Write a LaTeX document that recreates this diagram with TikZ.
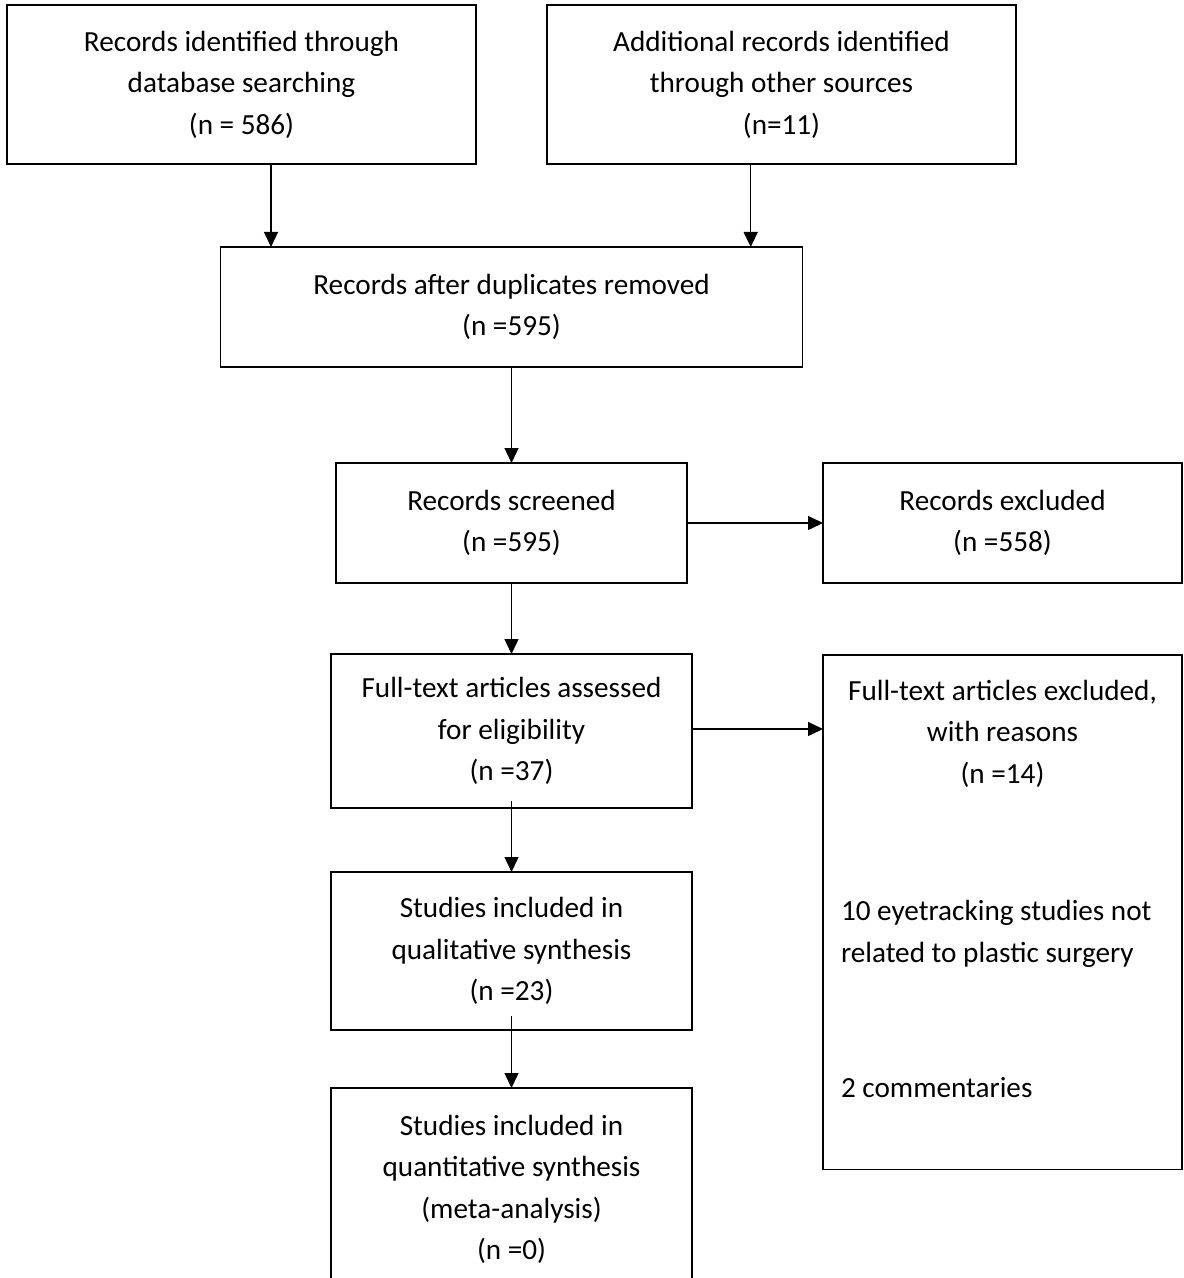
\documentclass[tikz,border=0pt]{standalone}
\usepackage{fontspec}
\setmainfont{Carlito}
\usepackage{tikz}
\usetikzlibrary{arrows.meta, positioning, calc}
\setlength{\parindent}{0pt}

\begin{document}
\begin{tikzpicture}[
				node distance=35pt,
				% Defining node styles
				block/.style={rectangle, draw=black, line width=0.75pt, align=center, inner sep=0pt, outer sep=0pt, font=\fontsize{14.6}{20.75}\selectfont},
				side_block/.style={block, align=flush left, text width=161.5pt, inner xsep=9pt, inner ysep=0pt},
				connector/.style={-{Triangle[length=7.5pt, width=7pt]}, line width=0.7pt, draw=black}
			]

			\useasboundingbox (0,0) rectangle (591.5pt,-639pt);

			% Placing the two sources
			\node[block, minimum width=234.5pt, minimum height=79.5pt, anchor=north west] (db) at (3.5pt,-2.5pt) {Records identified through\\ database searching\\ (n = 586)};
			\node[block, minimum width=234.5pt, minimum height=79.5pt, right=35.5pt of db] (other) {Additional records identified\\ through other sources\\ (n=11)};

			% Placing core nodes vertically
			\node[block, minimum width=291pt, minimum height=60pt, below=41.5pt of $(db.south)!0.5!(other.south)$] (dup) {Records after duplicates removed\\ (n =595)};
			\node[block, minimum width=175.5pt, minimum height=60pt, below=48pt of dup] (screen) {Records screened\\ (n =595)};
			\node[block, minimum width=180.5pt, minimum height=77pt, below=35.5pt of screen] (elig) {Full-text articles assessed\\ for eligibility\\ (n =37)};
			\node[block, minimum width=180.5pt, minimum height=79pt, below=32pt of elig] (qual) {Studies included in\\ qualitative synthesis\\ (n =23)};
			\node[block, minimum width=180.5pt, minimum height=101.5pt, below=29pt of qual] (quant) {Studies included in\\ quantitative synthesis\\ (meta-analysis)\\ (n =0)};

			% Adding exclusion nodes
			\node[block, minimum width=179.5pt, minimum height=60pt, right=68pt of screen] (excl) {Records excluded\\ (n =558)};
			\node[side_block, below=36pt of excl] (exclr) {{\centering\rule{0pt}{22.5pt}Full-text articles excluded,\par with reasons\par (n =14)\par}
				\vspace{48pt}
				10 eyetracking studies not\par related to plastic surgery\par
				\vspace{47pt}
				2 commentaries\rule[-36pt]{0pt}{0pt}};

			% Drawing connections
			\draw[connector] ([xshift=14.75pt]db.south) -- ([xshift=14.75pt]db.south |- dup.north);
			\draw[connector] ([xshift=-15.4pt]other.south) -- ([xshift=-15.4pt]other.south |- dup.north);
			\draw[connector] (dup) -- (screen);
			\draw[connector] (screen) -- (excl);
			\draw[connector] (screen) -- (elig);
			\draw[connector] ([yshift=1pt]elig.east) -- ([yshift=1pt]elig.east -| exclr.west);
			\draw[connector, shorten <=-3.5pt] (elig) -- (qual);
			\draw[connector, shorten <=-7pt] (qual) -- (quant);

		\end{tikzpicture}
\end{document}
